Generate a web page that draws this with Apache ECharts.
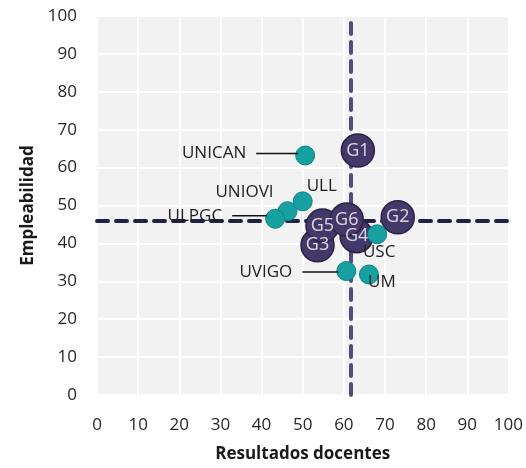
<!DOCTYPE html>
<html><head><meta charset="utf-8">
<script src="https://cdn.jsdelivr.net/npm/echarts@6/dist/echarts.min.js"></script>
<style>html,body{margin:0;padding:0;background:#fff}#c{width:526px;height:468px}</style>
</head><body><div id="c"></div>
<script>
const uniNames = ['UNICAN','UNIOVI','ULL','ULPGC','USC','UVIGO','UM'];
const uniX = [50.6, 46.3, 50.0, 43.3, 68.1, 60.6, 66.1];
const uniY = [63.2, 48.5, 51.1, 46.5, 42.4, 32.7, 31.8];
// groups listed in drawing order (back to front)
const grpNames = ['G3','G5','G4','G6','G1','G2'];
const grpX = [53.6, 54.8, 63.1, 60.7, 63.4, 73.1];
const grpY = [39.5, 44.7, 41.9, 46.3, 64.5, 46.9];
const refX = 61.7;
const refY = 46.0;
const xTicks = [0,10,20,30,40,50,60,70,80,90,100];
const yTicks = [0,10,20,30,40,50,60,70,80,90,100];

const FONT = '"Open Sans", "Noto Sans", sans-serif';
// label placement (pixels); "line" = callout length
const labelCfg = {
  UNICAN: {offset:[-7,-2], line:42},
  UNIOVI: {offset:[-43,-19]},
  ULL:    {offset:[19,-15]},
  ULPGC:  {offset:[-8,-3], line:35},
  USC:    {offset:[2,18]},
  UVIGO:  {offset:[-8,1], line:36},
  UM:     {offset:[13,8]}
};

const uniData = uniNames.map((n,i)=>{
  const c = labelCfg[n];
  const lab = {show:true, position:'inside', offset:c.offset};
  if (c.line) {
    lab.align = 'right';
    lab.formatter = '{t|{b}}{g|}{l|}';
    lab.rich = {
      t:{fontFamily:FONT, fontSize:17, color:'#1e1e1e'},
      g:{width:10, height:2, fontSize:1},
      l:{width:c.line, height:1.5, fontSize:1, backgroundColor:'#111'}
    };
  } else {
    lab.align = 'center';
  }
  return {name:n, value:[uniX[i], uniY[i]], label:lab};
});
const grpData = grpNames.map((n,i)=>({name:n, value:[grpX[i], grpY[i]]}));

const chart = echarts.init(document.getElementById('c'));
chart.setOption({
  animation:false,
  backgroundColor:'#fff',
  grid:{left:97, right:16, top:16, bottom:72, show:true, backgroundColor:'#f2f2f2', borderWidth:0},
  xAxis:{type:'value', min:0, max:100, interval:10,
    name:'Resultados docentes', nameLocation:'middle', nameGap:51,
    nameTextStyle:{fontFamily:FONT, fontWeight:'bold', fontSize:17, color:'#1a1a1a'},
    axisLine:{show:false}, axisTick:{show:false},
    axisLabel:{fontFamily:FONT, fontSize:17, color:'#262626', margin:22,
      formatter:(v)=> xTicks.includes(v) ? String(v) : ''},
    splitLine:{show:true, lineStyle:{color:'#ffffff', width:2}}},
  yAxis:{type:'value', min:0, max:100, interval:10,
    name:'Empleabilidad', nameLocation:'middle', nameGap:59,
    nameTextStyle:{fontFamily:FONT, fontWeight:'bold', fontSize:17, color:'#1a1a1a'},
    axisLine:{show:false}, axisTick:{show:false},
    axisLabel:{fontFamily:FONT, fontSize:17, color:'#262626', margin:20,
      formatter:(v)=> yTicks.includes(v) ? String(v) : ''},
    splitLine:{show:true, lineStyle:{color:'#ffffff', width:2}}},
  series:[
    {type:'scatter', name:'ref', data:[], z:2,
     markLine:{silent:true, symbol:'none', animation:false, z:2, label:{show:false},
       data:[
         {xAxis:refX, lineStyle:{color:'#544a7d', width:4, type:[11,8], cap:'round'}},
         {yAxis:refY, lineStyle:{color:'#1f2147', width:4, type:[11,8], cap:'round'}}
       ]}},
    {type:'scatter', name:'grupos', data:grpData, z:10, symbolSize:33,
     itemStyle:{color:'#433868', borderColor:'#2b2248', borderWidth:1.5, opacity:1},
     label:{show:false}},
    {type:'scatter', name:'grupos-etiquetas', data:grpData, z:11, symbolSize:33,
     itemStyle:{color:'rgba(0,0,0,0)', borderWidth:0}, silent:true,
     label:{show:true, position:'inside', formatter:'{b}', color:'#ffffff', fontFamily:FONT, fontSize:18}},
    {type:'scatter', name:'univ', data:uniData, z:12, symbolSize:19,
     itemStyle:{color:'#17a0a0', borderColor:'#0f8585', borderWidth:1, opacity:1},
     label:{show:true, formatter:'{b}', color:'#1e1e1e', fontFamily:FONT, fontSize:17}}
  ]
});
</script></body></html>
